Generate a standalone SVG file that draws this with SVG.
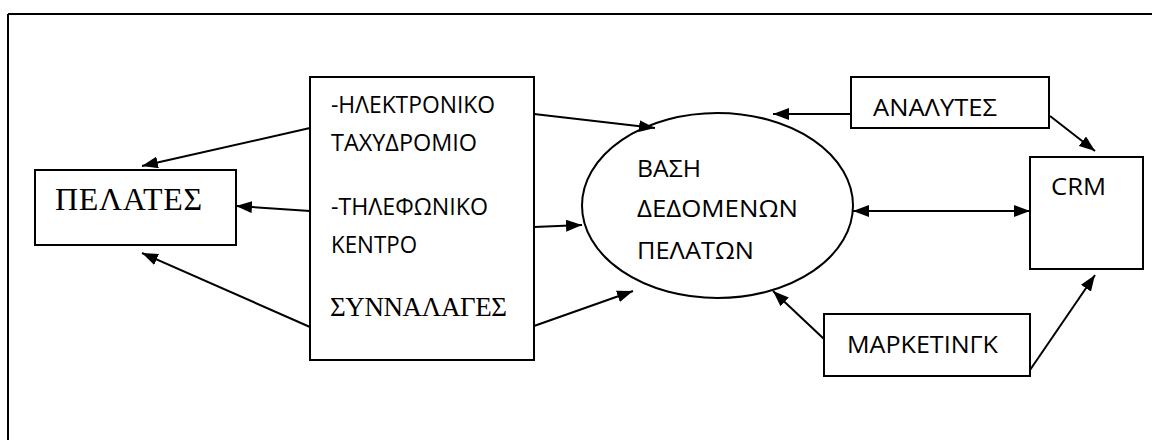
<svg xmlns="http://www.w3.org/2000/svg" width="1152" height="440" viewBox="0 0 1152 440">
  <style>
    .box { fill: #fff; stroke: #000; stroke-width: 2; }
    .sans { font-family: "Open Sans", "Noto Sans", "DejaVu Sans", sans-serif; font-size: 23px; fill: #000; }
    .serif { font-family: "Liberation Serif", "DejaVu Serif", serif; fill: #000; }
    .link { stroke: #000; stroke-width: 2; fill: none; marker-end: url(#head); }
  </style>
  <defs>
    <marker id="head" viewBox="0 0 16 12" refX="16" refY="6" markerWidth="16" markerHeight="12" markerUnits="userSpaceOnUse" orient="auto">
      <path d="M0,0 L16,6 L0,12 Z" fill="#000"/>
    </marker>
    <marker id="tail" viewBox="0 0 16 12" refX="0" refY="6" markerWidth="16" markerHeight="12" markerUnits="userSpaceOnUse" orient="auto">
      <path d="M16,0 L0,6 L16,12 Z" fill="#000"/>
    </marker>
  </defs>

  <!-- page frame: top and left rules only -->
  <path d="M8,14 H1152 M8,14 V440" stroke="#000" stroke-width="2" fill="none"/>

  <g id="customers">
    <rect class="box" x="35" y="170" width="201" height="75"/>
    <text class="serif" x="55" y="210" font-size="32" textLength="147">ΠΕΛΑΤΕΣ</text>
  </g>

  <g id="channels">
    <rect class="box" x="310" y="77" width="224" height="283"/>
    <text class="sans" x="331" y="113" textLength="164" lengthAdjust="spacingAndGlyphs">-ΗΛΕΚΤΡΟΝΙΚΟ</text>
    <text class="sans" x="331" y="151" textLength="146" lengthAdjust="spacingAndGlyphs">ΤΑΧΥΔΡΟΜΙΟ</text>
    <text class="sans" x="331" y="215" textLength="157" lengthAdjust="spacingAndGlyphs">-ΤΗΛΕΦΩΝΙΚΟ</text>
    <text class="sans" x="331" y="253" textLength="86" lengthAdjust="spacingAndGlyphs">ΚΕΝΤΡΟ</text>
    <text class="serif" x="330" y="316" font-size="27" textLength="177">ΣΥΝΝΑΛΑΓΕΣ</text>
  </g>

  <g id="database">
    <ellipse class="box" cx="717.5" cy="205.5" rx="135.5" ry="92.5"/>
    <text class="sans" x="637" y="177" textLength="64" lengthAdjust="spacingAndGlyphs">ΒΑΣΗ</text>
    <text class="sans" x="637" y="217" textLength="161" lengthAdjust="spacingAndGlyphs">ΔΕΔΟΜΕΝΩΝ</text>
    <text class="sans" x="637" y="259" textLength="117" lengthAdjust="spacingAndGlyphs">ΠΕΛΑΤΩΝ</text>
  </g>

  <g id="analysts">
    <rect class="box" x="851" y="77" width="198" height="51"/>
    <text class="sans" x="873" y="116" textLength="124" lengthAdjust="spacingAndGlyphs">ΑΝΑΛΥΤΕΣ</text>
  </g>

  <g id="crm">
    <rect class="box" x="1030" y="157" width="113" height="112"/>
    <text class="sans" x="1051" y="195" textLength="55" lengthAdjust="spacingAndGlyphs">CRM</text>
  </g>

  <g id="marketing">
    <rect class="box" x="824" y="314" width="206" height="62"/>
    <text class="sans" x="847" y="353" textLength="151" lengthAdjust="spacingAndGlyphs">ΜΑΡΚΕΤΙΝΓΚ</text>
  </g>

  <g id="connectors">
    <line class="link" x1="310" y1="128" x2="142" y2="166"/>
    <line class="link" x1="310" y1="211" x2="236" y2="206"/>
    <line class="link" x1="310" y1="327" x2="142" y2="253"/>
    <line class="link" x1="534" y1="114" x2="655" y2="128"/>
    <line class="link" x1="534" y1="227" x2="582" y2="225"/>
    <line class="link" x1="534" y1="326" x2="633" y2="291"/>
    <line class="link" x1="851" y1="114" x2="773" y2="114"/>
    <line class="link" x1="1050" y1="116" x2="1095" y2="151"/>
    <line class="link" x1="853" y1="211" x2="1030" y2="211" marker-start="url(#tail)"/>
    <line class="link" x1="824" y1="339" x2="773" y2="291"/>
    <line class="link" x1="1030" y1="370" x2="1095" y2="275"/>
  </g>
</svg>
